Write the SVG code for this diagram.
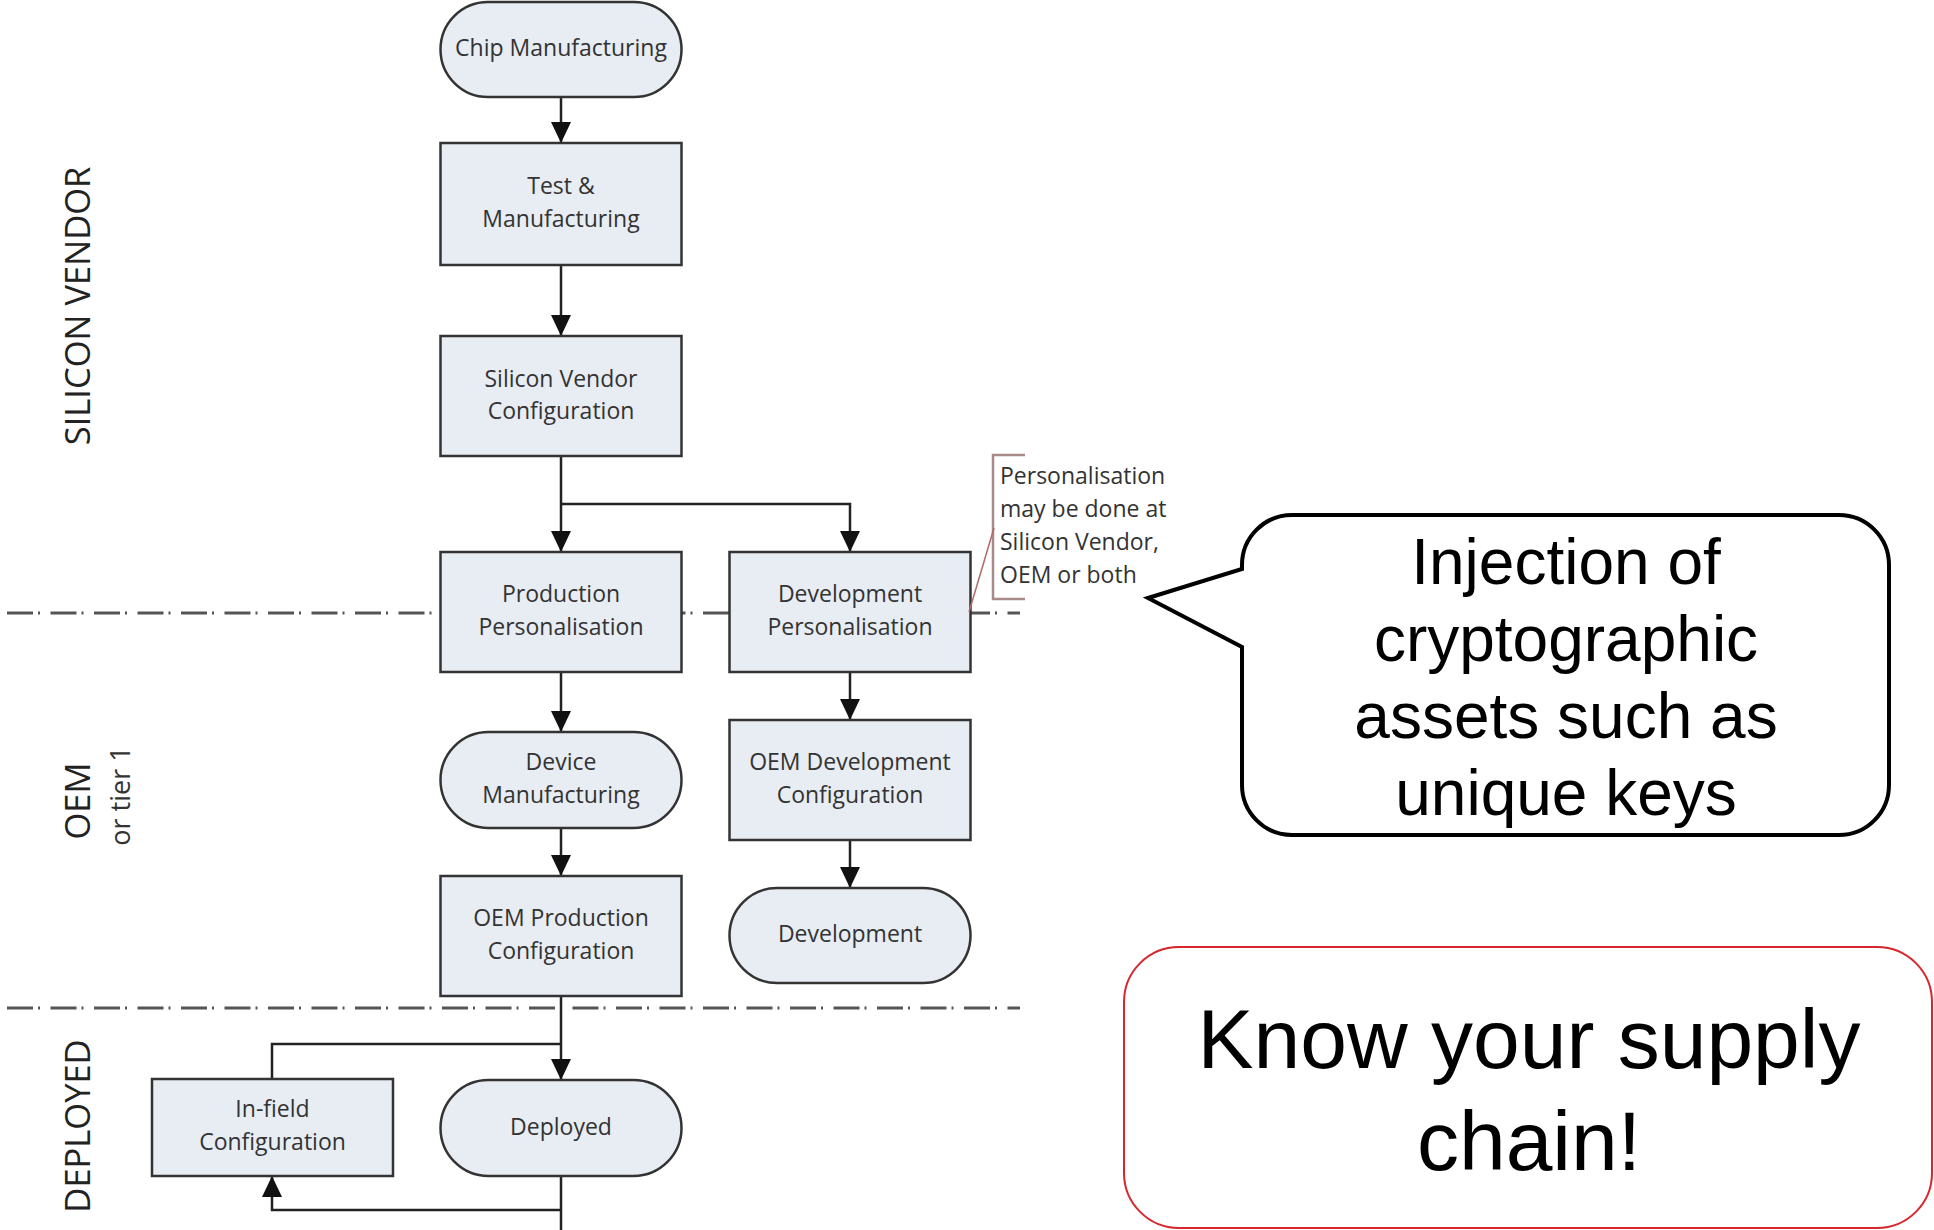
<svg xmlns="http://www.w3.org/2000/svg" width="1934" height="1230" viewBox="0 0 1934 1230">
  <defs>
    <marker id="arrow" markerUnits="userSpaceOnUse" markerWidth="22" markerHeight="22" viewBox="0 0 22 20" refX="21" refY="10" orient="auto">
      <path d="M0,0 L21,10 L0,20 z" fill="#111"/>
    </marker>
    <style>
      .box { fill: #e8ecf3; stroke: #333; stroke-width: 2.5; }
      .lbl { font-family: "Open Sans", "Liberation Sans", sans-serif; font-size: 23px; fill: #333; text-anchor: middle; }
      .lane { font-family: "Open Sans", "Liberation Sans", sans-serif; font-size: 34.5px; fill: #222; text-anchor: middle; }
      .sub { font-family: "Open Sans", "Liberation Sans", sans-serif; font-size: 27px; fill: #333; text-anchor: middle; }
      .sep { stroke: #555; stroke-width: 3; fill: none; stroke-dasharray: 26 5 2 10.5; }
      .wire { stroke: #222; stroke-width: 2.5; fill: none; }
      .note { font-family: "Open Sans", "Liberation Sans", sans-serif; font-size: 23px; fill: #333; }
      .big { font-family: "Liberation Sans", Arial, sans-serif; fill: #000; text-anchor: middle; }
    </style>
  </defs>

  <rect width="1934" height="1230" fill="#fff"/>

  <!-- swimlane separators -->
  <g id="separators">
    <line class="sep" x1="7" y1="613" x2="1020" y2="613"/>
    <line class="sep" x1="7" y1="1008" x2="1020" y2="1008"/>
  </g>

  <!-- swimlane titles -->
  <g id="lanes">
    <text class="lane" transform="translate(90,306) rotate(-90)">SILICON VENDOR</text>
    <text class="lane" transform="translate(90,801) rotate(-90)">OEM</text>
    <text class="sub" transform="translate(130,796) rotate(-90)">or tier 1</text>
    <text class="lane" transform="translate(90,1126) rotate(-90)">DEPLOYED</text>
  </g>

  <!-- connectors -->
  <g id="connectors">
    <line class="wire" x1="561" y1="97" x2="561" y2="143" marker-end="url(#arrow)"/>
    <line class="wire" x1="561" y1="265" x2="561" y2="336" marker-end="url(#arrow)"/>
    <line class="wire" x1="561" y1="456" x2="561" y2="552" marker-end="url(#arrow)"/>
    <polyline class="wire" points="561,504 850,504 850,552" marker-end="url(#arrow)"/>
    <line class="wire" x1="561" y1="672" x2="561" y2="732" marker-end="url(#arrow)"/>
    <line class="wire" x1="561" y1="828" x2="561" y2="876" marker-end="url(#arrow)"/>
    <line class="wire" x1="850" y1="672" x2="850" y2="720" marker-end="url(#arrow)"/>
    <line class="wire" x1="850" y1="840" x2="850" y2="888" marker-end="url(#arrow)"/>
    <line class="wire" x1="561" y1="996" x2="561" y2="1080" marker-end="url(#arrow)"/>
    <polyline class="wire" points="272,1079 272,1044 561,1044"/>
    <line class="wire" x1="561" y1="1176" x2="561" y2="1230"/>
    <polyline class="wire" points="561,1210 272,1210 272,1176" marker-end="url(#arrow)"/>
  </g>

  <!-- nodes -->
  <g id="chip-manufacturing">
    <rect class="box" x="440.5" y="2" width="241" height="95" rx="47.5"/>
    <text class="lbl" x="561" y="56">Chip Manufacturing</text>
  </g>
  <g id="test-manufacturing">
    <rect class="box" x="440.5" y="143" width="241" height="122"/>
    <text class="lbl" x="561" y="194">Test &amp;</text>
    <text class="lbl" x="561" y="227">Manufacturing</text>
  </g>
  <g id="silicon-vendor-configuration">
    <rect class="box" x="440.5" y="336" width="241" height="120"/>
    <text class="lbl" x="561" y="387">Silicon Vendor</text>
    <text class="lbl" x="561" y="419">Configuration</text>
  </g>
  <g id="production-personalisation">
    <rect class="box" x="440.5" y="552" width="241" height="120"/>
    <text class="lbl" x="561" y="602">Production</text>
    <text class="lbl" x="561" y="635">Personalisation</text>
  </g>
  <g id="development-personalisation">
    <rect class="box" x="729.5" y="552" width="241" height="120"/>
    <text class="lbl" x="850" y="602">Development</text>
    <text class="lbl" x="850" y="635">Personalisation</text>
  </g>
  <g id="device-manufacturing">
    <rect class="box" x="440.5" y="732" width="241" height="96" rx="48"/>
    <text class="lbl" x="561" y="770">Device</text>
    <text class="lbl" x="561" y="803">Manufacturing</text>
  </g>
  <g id="oem-development-configuration">
    <rect class="box" x="729.5" y="720" width="241" height="120"/>
    <text class="lbl" x="850" y="770">OEM Development</text>
    <text class="lbl" x="850" y="803">Configuration</text>
  </g>
  <g id="oem-production-configuration">
    <rect class="box" x="440.5" y="876" width="241" height="120"/>
    <text class="lbl" x="561" y="926">OEM Production</text>
    <text class="lbl" x="561" y="959">Configuration</text>
  </g>
  <g id="development">
    <rect class="box" x="729.5" y="888" width="241" height="95" rx="47.5"/>
    <text class="lbl" x="850" y="942">Development</text>
  </g>
  <g id="deployed">
    <rect class="box" x="440.5" y="1080" width="241" height="96" rx="48"/>
    <text class="lbl" x="561" y="1135">Deployed</text>
  </g>
  <g id="in-field-configuration">
    <rect class="box" x="152" y="1079" width="241" height="97"/>
    <text class="lbl" x="272.5" y="1117">In-field</text>
    <text class="lbl" x="272.5" y="1150">Configuration</text>
  </g>

  <!-- annotation on personalisation -->
  <g id="personalisation-note">
    <polyline points="1025,455 993,455 993,599 1025,599" fill="none" stroke="#a88a8a" stroke-width="2.5"/>
    <line x1="969" y1="612" x2="994" y2="528" stroke="#b06a6a" stroke-width="1.5"/>
    <text class="note" x="1000" y="484">Personalisation</text>
    <text class="note" x="1000" y="517">may be done at</text>
    <text class="note" x="1000" y="550">Silicon Vendor,</text>
    <text class="note" x="1000" y="583">OEM or both</text>
  </g>

  <!-- speech bubble -->
  <g id="injection-callout">
    <path d="M1148,598 L1242,569 L1242,565 A50,50 0 0 1 1292,515 L1839,515 A50,50 0 0 1 1889,565 L1889,785 A50,50 0 0 1 1839,835 L1292,835 A50,50 0 0 1 1242,785 L1242,647 Z" fill="#fff" stroke="#000" stroke-width="4" stroke-linejoin="miter"/>
    <text class="big" font-size="64" x="1566" y="584">Injection of</text>
    <text class="big" font-size="64" x="1566" y="661">cryptographic</text>
    <text class="big" font-size="64" x="1566" y="738">assets such as</text>
    <text class="big" font-size="64" x="1566" y="815">unique keys</text>
  </g>

  <!-- takeaway box -->
  <g id="supply-chain-box">
    <rect x="1124" y="947" width="808" height="281" rx="55" ry="55" fill="#fff" stroke="#d8262e" stroke-width="2"/>
    <text class="big" font-size="84" x="1529" y="1068">Know your supply</text>
    <text class="big" font-size="84" x="1529" y="1170">chain!</text>
  </g>
</svg>
